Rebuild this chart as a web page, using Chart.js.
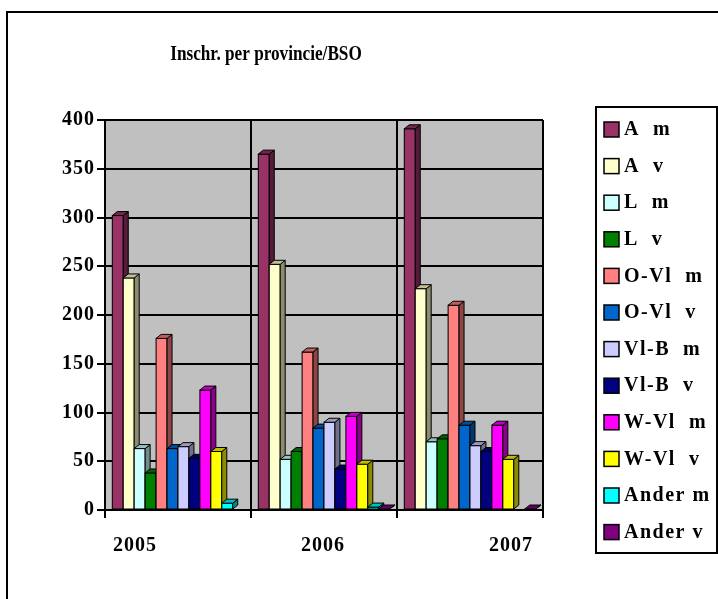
<!DOCTYPE html>
<html><head><meta charset="utf-8">
<script src="https://cdn.jsdelivr.net/npm/chart.js@4/dist/chart.umd.min.js"></script>
<style>html,body{margin:0;padding:0;background:#fff}#wrap{width:718px;height:599px;position:relative}</style>
</head><body><div id="wrap"><canvas id="c" width="718" height="599"></canvas></div>
<script>
const chartTitle = 'Inschr. per provincie/BSO';
const categories = ['2005', '2006', '2007'];
const seriesNames = ['A  m', 'A  v', 'L  m', 'L  v', 'O-Vl  m', 'O-Vl  v', 'Vl-B  m', 'Vl-B  v', 'W-Vl  m', 'W-Vl  v', 'Ander m', 'Ander v'];
const A_m = [302, 365, 391];
const A_v = [238, 252, 227];
const L_m = [63, 52, 70];
const L_v = [38, 60, 73];
const OVl_m = [176, 162, 210];
const OVl_v = [63, 84, 87];
const VlB_m = [65, 90, 66];
const VlB_v = [53, 42, 60];
const WVl_m = [123, 96, 87];
const WVl_v = [60, 47, 52];
const Ander_m = [7, 3, 0];
const Ander_v = [0, 1, 1];
const seriesValues = [A_m, A_v, L_m, L_v, OVl_m, OVl_v, VlB_m, VlB_v, WVl_m, WVl_v, Ander_m, Ander_v];
const seriesColors = ['#993366', '#FFFFCC', '#CCFFFF', '#008000', '#FF8080', '#0066CC', '#CCCCFF', '#000080', '#FF00FF', '#FFFF00', '#00FFFF', '#800080'];
const yTicks = [0, 50, 100, 150, 200, 250, 300, 350, 400];

const FONT = "'Liberation Serif', 'Times New Roman', serif";
Chart.defaults.font.family = FONT;
Chart.defaults.font.weight = 'bold';
Chart.defaults.font.size = 20;
Chart.defaults.color = '#000';

function shade(hex, f) {
  const n = parseInt(hex.slice(1), 16);
  const r = Math.round(((n >> 16) & 255) * f), g = Math.round(((n >> 8) & 255) * f), b = Math.round((n & 255) * f);
  return `rgb(${r},${g},${b})`;
}

const spacingPlugin = {
  id: 'spacing',
  beforeLayout(chart) { chart.ctx.letterSpacing = '1px'; },
  beforeDraw(chart) { chart.ctx.letterSpacing = '1px'; }
};

const framePlugin = {
  id: 'frame',
  beforeDraw(chart) {
    const { ctx, chartArea: a } = chart;
    ctx.save();
    ctx.fillStyle = '#C0C0C0';
    ctx.fillRect(a.left, a.top, a.right - a.left, a.bottom - a.top);
    ctx.strokeStyle = '#808080';
    ctx.lineWidth = 1;
    ctx.strokeRect(a.left + 0.5, a.top + 0.5, a.right - a.left - 1, a.bottom - a.top - 1);
    ctx.restore();
  },
  afterDraw(chart) {
    const ctx = chart.ctx;
    ctx.save();
    ctx.letterSpacing = '0px';
    ctx.strokeStyle = '#000';
    ctx.lineWidth = 2;
    ctx.beginPath();
    ctx.moveTo(7, chart.height);
    ctx.lineTo(7, 12);
    ctx.lineTo(chart.width, 12);
    ctx.stroke();
    // title
    ctx.fillStyle = '#000';
    ctx.font = `bold 20px ${FONT}`;
    ctx.textAlign = 'center';
    ctx.textBaseline = 'alphabetic';
    ctx.translate(266, 60);
    ctx.scale(0.86, 1);
    ctx.fillText(chartTitle, 0, 0);
    ctx.restore();
    // legend
    ctx.save();
    ctx.letterSpacing = '1.5px';
    ctx.strokeStyle = '#000';
    ctx.lineWidth = 2;
    ctx.strokeRect(596, 107, 121, 446);
    ctx.font = `bold 20px ${FONT}`;
    ctx.textAlign = 'left';
    ctx.textBaseline = 'middle';
    chart.data.datasets.forEach((ds, i) => {
      const cy = 129 + i * 36.6;
      ctx.fillStyle = ds.backgroundColor;
      ctx.fillRect(604, cy - 7, 15, 15);
      ctx.lineWidth = 1.5;
      ctx.strokeRect(604, cy - 7, 15, 15);
      ctx.fillStyle = '#000';
      ctx.fillText(ds.label, 624, cy + 1);
    });
    ctx.restore();
  }
};

const bars3dPlugin = {
  id: 'bars3d',
  afterDatasetsDraw(chart) {
    const ctx = chart.ctx;
    const dx = 5, dy = 4;
    ctx.save();
    ctx.lineWidth = 1;
    ctx.strokeStyle = '#000';
    chart.data.datasets.forEach((ds, i) => {
      const meta = chart.getDatasetMeta(i);
      meta.data.forEach((bar, j) => {
        const v = ds.data[j];
        if (!(v > 0)) return;
        const { x, y, base, width } = bar.getProps(['x', 'y', 'base', 'width'], true);
        const l = x - width / 2, r = x + width / 2;
        ctx.fillStyle = ds.backgroundColor;
        ctx.fillRect(l, y, width, base - y);
        ctx.strokeRect(l, y, width, base - y);
        ctx.beginPath();
        ctx.moveTo(r, y); ctx.lineTo(r + dx, y - dy); ctx.lineTo(r + dx, base - dy); ctx.lineTo(r, base); ctx.closePath();
        ctx.fillStyle = shade(ds.backgroundColor, 0.55);
        ctx.fill(); ctx.stroke();
        ctx.beginPath();
        ctx.moveTo(l, y); ctx.lineTo(l + dx, y - dy); ctx.lineTo(r + dx, y - dy); ctx.lineTo(r, y); ctx.closePath();
        ctx.fillStyle = shade(ds.backgroundColor, 0.75);
        ctx.fill(); ctx.stroke();
      });
    });
    ctx.restore();
  }
};

// value range of the label axis, chosen so the year labels sit where Excel placed them
const LABEL_MIN = -0.16, LABEL_MAX = 2.17;

new Chart(document.getElementById('c'), {
  type: 'bar',
  data: {
    labels: categories,
    datasets: seriesNames.map((name, i) => ({
      label: name,
      data: seriesValues[i],
      backgroundColor: seriesColors[i],
      borderColor: '#000',
      borderWidth: 1,
      categoryPercentage: 0.9,
      barPercentage: 1.0,
      xAxisID: 'x',
      yAxisID: 'y'
    }))
  },
  options: {
    responsive: false,
    animation: false,
    layout: { padding: { left: 0, right: 175, top: 120, bottom: 31 } },
    plugins: { legend: { display: false }, title: { display: false }, tooltip: { enabled: false } },
    scales: {
      y: {
        min: 0, max: 400,
        afterBuildTicks: (s) => { s.ticks = yTicks.map(v => ({ value: v })); },
        afterFit: (s) => { s.width = 105; },
        grid: { color: '#000', lineWidth: 2, tickLength: 8, drawTicks: true },
        border: { color: '#000', width: 2 },
        ticks: { padding: 2, font: { size: 20, weight: 'bold' } }
      },
      x: {
        type: 'category',
        position: 'bottom',
        offset: true,
        grid: { offset: true, color: '#000', lineWidth: 2, tickLength: 8, drawTicks: true },
        border: { color: '#000', width: 2 },
        ticks: { display: false },
        afterFit: (s) => { s.height = 8; }
      },
      x2: {
        type: 'linear',
        position: 'bottom',
        offset: false,
        beginAtZero: false,
        grace: 0,
        min: LABEL_MIN, max: LABEL_MAX,
        afterBuildTicks: (s) => { s.ticks = categories.map((c, i) => ({ value: i })); },
        grid: { display: false, offset: false, drawTicks: false, tickLength: 0 },
        border: { display: false },
        ticks: { padding: 16, font: { size: 20, weight: 'bold' }, callback: (v, i) => categories[i] },
        afterFit: (s) => { s.height = 50; }
      }
    }
  },
  plugins: [spacingPlugin, framePlugin, bars3dPlugin]
});
</script>
</body></html>
